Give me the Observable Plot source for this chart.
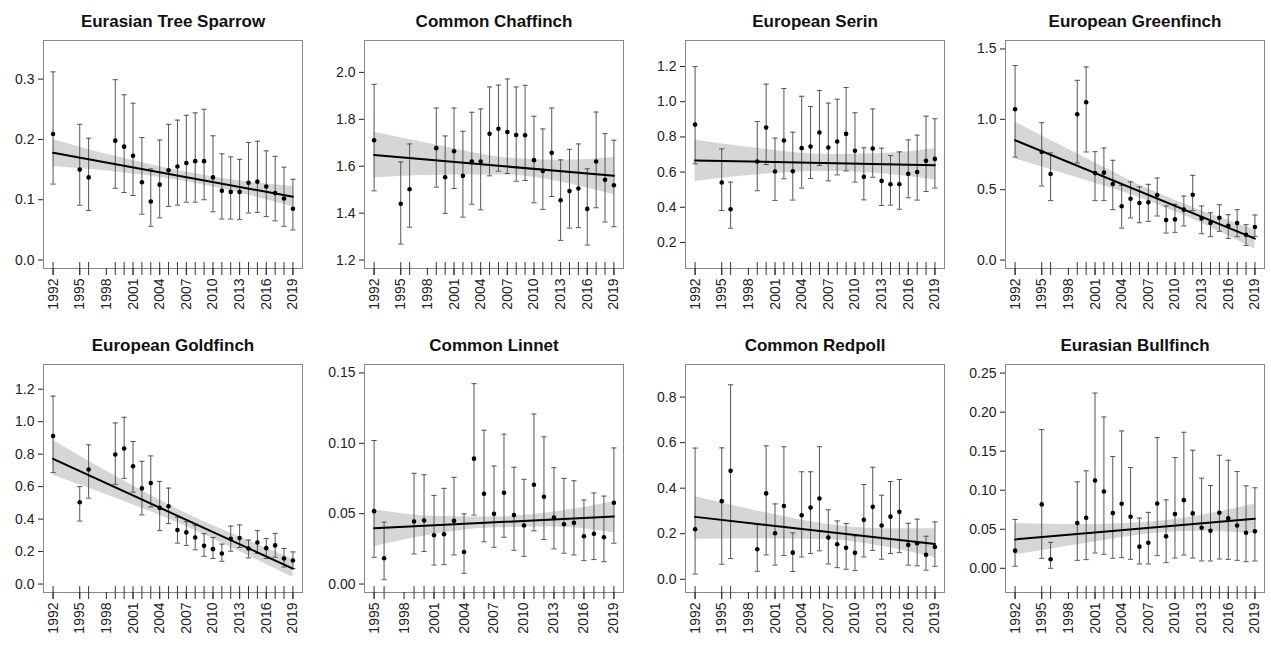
<!DOCTYPE html>
<html>
<head>
<meta charset="utf-8">
<script src="https://cdn.jsdelivr.net/npm/d3@7"></script>
<script src="https://cdn.jsdelivr.net/npm/@observablehq/plot@0.6"></script>
<style>
  html, body { margin: 0; padding: 0; background: #fff; overflow: hidden; }
  #grid { position: relative; width: 1271px; height: 653px; }
  #grid > svg { position: absolute; }
</style>
</head>
<body>
<div id="grid"></div>
<script>
// Survey years (1993, 1994, 1997 and 1998 have no estimates)
const years = [1992, 1995, 1996, 1999, 2000, 2001, 2002, 2003, 2004, 2005, 2006, 2007,
  2008, 2009, 2010, 2011, 2012, 2013, 2014, 2015, 2016, 2017, 2018, 2019];
const linnetYears = years.slice(1);
// Years at which the fitted trend's confidence band is given
const bandYears = [1992, 1999, 2007, 2013, 2019];
const linnetBandYears = [1995, 2001, 2007, 2013, 2019];

// Eurasian Tree Sparrow
const sparrowEst = [0.209, 0.150, 0.137, 0.198, 0.188, 0.173, 0.129, 0.097, 0.125, 0.149, 0.155, 0.161, 0.164, 0.164, 0.137, 0.115, 0.113, 0.113, 0.128, 0.130, 0.122, 0.111, 0.102, 0.085];
const sparrowUpper = [0.312, 0.225, 0.202, 0.299, 0.274, 0.260, 0.203, 0.151, 0.199, 0.225, 0.232, 0.240, 0.244, 0.250, 0.206, 0.176, 0.171, 0.167, 0.195, 0.197, 0.181, 0.172, 0.154, 0.134];
const sparrowLower = [0.126, 0.091, 0.082, 0.119, 0.112, 0.107, 0.076, 0.056, 0.070, 0.089, 0.091, 0.096, 0.096, 0.100, 0.080, 0.068, 0.068, 0.067, 0.078, 0.079, 0.072, 0.065, 0.056, 0.050];
const sparrowTrend = [0.178, 0.105];
const sparrowBandLo = [0.155, 0.146, 0.130, 0.111, 0.088];
const sparrowBandHi = [0.200, 0.172, 0.146, 0.131, 0.122];

// Common Chaffinch
const chaffinchEst = [1.711, 1.440, 1.502, 1.677, 1.553, 1.664, 1.559, 1.620, 1.620, 1.738, 1.760, 1.746, 1.733, 1.732, 1.626, 1.580, 1.657, 1.455, 1.494, 1.505, 1.418, 1.620, 1.542, 1.519];
const chaffinchUpper = [1.949, 1.618, 1.695, 1.848, 1.729, 1.848, 1.749, 1.830, 1.844, 1.938, 1.946, 1.972, 1.938, 1.945, 1.813, 1.759, 1.848, 1.627, 1.672, 1.695, 1.589, 1.831, 1.739, 1.711];
const chaffinchLower = [1.495, 1.268, 1.340, 1.511, 1.399, 1.505, 1.383, 1.438, 1.414, 1.559, 1.579, 1.569, 1.536, 1.539, 1.444, 1.416, 1.471, 1.284, 1.336, 1.338, 1.264, 1.423, 1.362, 1.342];
const chaffinchTrend = [1.648, 1.559];
const chaffinchBandLo = [1.550, 1.562, 1.563, 1.533, 1.478];
const chaffinchBandHi = [1.745, 1.690, 1.635, 1.625, 1.637];

// European Serin
const serinEst = [0.870, 0.541, 0.389, 0.660, 0.853, 0.603, 0.780, 0.605, 0.736, 0.745, 0.825, 0.740, 0.774, 0.817, 0.721, 0.573, 0.734, 0.550, 0.531, 0.531, 0.590, 0.600, 0.664, 0.675];
const serinUpper = [1.200, 0.732, 0.543, 0.887, 1.100, 0.793, 1.075, 0.827, 1.031, 0.973, 1.064, 0.992, 1.014, 1.081, 0.937, 0.738, 0.959, 0.736, 0.694, 0.715, 0.783, 0.810, 0.918, 0.903];
const serinLower = [0.647, 0.382, 0.281, 0.494, 0.643, 0.439, 0.562, 0.441, 0.509, 0.564, 0.638, 0.550, 0.584, 0.607, 0.543, 0.442, 0.571, 0.410, 0.412, 0.389, 0.454, 0.441, 0.490, 0.509];
const serinTrend = [0.666, 0.639];
const serinBandLo = [0.547, 0.585, 0.605, 0.590, 0.555];
const serinBandHi = [0.783, 0.735, 0.700, 0.705, 0.732];

// European Greenfinch
const greenfinchEst = [1.071, 0.768, 0.611, 1.036, 1.121, 0.618, 0.621, 0.540, 0.382, 0.436, 0.405, 0.410, 0.462, 0.284, 0.289, 0.358, 0.464, 0.296, 0.263, 0.301, 0.244, 0.263, 0.180, 0.235];
const greenfinchUpper = [1.382, 0.976, 0.761, 1.277, 1.372, 0.770, 0.796, 0.709, 0.531, 0.555, 0.520, 0.538, 0.583, 0.384, 0.396, 0.455, 0.602, 0.384, 0.336, 0.393, 0.322, 0.358, 0.251, 0.320];
const greenfinchLower = [0.732, 0.526, 0.422, 0.690, 0.768, 0.422, 0.422, 0.358, 0.227, 0.299, 0.265, 0.275, 0.313, 0.192, 0.197, 0.242, 0.351, 0.187, 0.166, 0.204, 0.154, 0.166, 0.104, 0.168];
const greenfinchTrend = [0.851, 0.152];
const greenfinchBandLo = [0.720, 0.585, 0.420, 0.262, 0.078];
const greenfinchBandHi = [0.981, 0.755, 0.505, 0.350, 0.215];

// European Goldfinch
const goldfinchEst = [0.911, 0.504, 0.705, 0.798, 0.835, 0.725, 0.589, 0.622, 0.469, 0.479, 0.333, 0.318, 0.287, 0.236, 0.215, 0.188, 0.279, 0.283, 0.219, 0.256, 0.221, 0.238, 0.157, 0.145];
const goldfinchUpper = [1.157, 0.600, 0.857, 0.992, 1.027, 0.878, 0.756, 0.789, 0.632, 0.591, 0.411, 0.384, 0.362, 0.310, 0.287, 0.246, 0.357, 0.364, 0.271, 0.329, 0.281, 0.312, 0.219, 0.198];
const goldfinchLower = [0.686, 0.388, 0.529, 0.614, 0.651, 0.566, 0.426, 0.475, 0.329, 0.372, 0.252, 0.238, 0.211, 0.171, 0.157, 0.140, 0.202, 0.225, 0.161, 0.188, 0.157, 0.165, 0.105, 0.095];
const goldfinchTrend = [0.771, 0.095];
const goldfinchBandLo = [0.670, 0.530, 0.355, 0.200, 0.040];
const goldfinchBandHi = [0.884, 0.665, 0.435, 0.290, 0.152];

// Common Linnet (series starts in 1995)
const linnetEst = [0.0518, 0.0183, 0.0444, 0.0452, 0.0347, 0.0354, 0.0449, 0.0228, 0.0891, 0.0642, 0.0499, 0.0649, 0.0490, 0.0416, 0.0706, 0.0620, 0.0473, 0.0425, 0.0435, 0.0340, 0.0357, 0.0333, 0.0578];
const linnetUpper = [0.1020, 0.0440, 0.0787, 0.0777, 0.0630, 0.0680, 0.0758, 0.0499, 0.1424, 0.1093, 0.0839, 0.1065, 0.0830, 0.0744, 0.1208, 0.1046, 0.0827, 0.0751, 0.0734, 0.0597, 0.0647, 0.0625, 0.0967];
const linnetLower = [0.0190, 0.0031, 0.0214, 0.0231, 0.0135, 0.0138, 0.0207, 0.0076, 0.0490, 0.0300, 0.0261, 0.0333, 0.0240, 0.0197, 0.0378, 0.0316, 0.0250, 0.0219, 0.0207, 0.0166, 0.0174, 0.0159, 0.0290];
const linnetTrend = [0.0397, 0.0480];
const linnetBandLo = [0.0265, 0.0352, 0.0400, 0.0405, 0.0364];
const linnetBandHi = [0.0528, 0.0482, 0.0476, 0.0512, 0.0585];

// Common Redpoll
const redpollEst = [0.220, 0.343, 0.476, 0.132, 0.377, 0.202, 0.322, 0.117, 0.281, 0.315, 0.355, 0.183, 0.154, 0.138, 0.116, 0.261, 0.318, 0.236, 0.275, 0.296, 0.151, 0.158, 0.108, 0.142];
const redpollUpper = [0.576, 0.577, 0.854, 0.240, 0.586, 0.331, 0.582, 0.204, 0.472, 0.472, 0.582, 0.305, 0.256, 0.245, 0.190, 0.416, 0.492, 0.369, 0.429, 0.438, 0.246, 0.264, 0.189, 0.252];
const redpollLower = [0.023, 0.066, 0.091, 0.035, 0.107, 0.062, 0.104, 0.034, 0.098, 0.113, 0.125, 0.067, 0.051, 0.044, 0.038, 0.098, 0.127, 0.088, 0.113, 0.117, 0.062, 0.059, 0.040, 0.057];
const redpollTrend = [0.274, 0.155];
const redpollBandLo = [0.176, 0.178, 0.175, 0.145, 0.095];
const redpollBandHi = [0.362, 0.300, 0.240, 0.222, 0.222];

// Eurasian Bullfinch
const bullfinchEst = [0.0226, 0.0818, 0.0115, 0.0579, 0.0647, 0.1124, 0.0984, 0.0707, 0.0826, 0.0660, 0.0277, 0.0328, 0.0830, 0.0409, 0.0694, 0.0873, 0.0703, 0.0520, 0.0481, 0.0711, 0.0639, 0.0549, 0.0456, 0.0473];
const bullfinchUpper = [0.0626, 0.1776, 0.0332, 0.1107, 0.1248, 0.2244, 0.1938, 0.1431, 0.1759, 0.1290, 0.0643, 0.0716, 0.1674, 0.0877, 0.1418, 0.1742, 0.1512, 0.1154, 0.1060, 0.1448, 0.1384, 0.1239, 0.1056, 0.1031];
const bullfinchLower = [0.0026, 0.0128, 0.0000, 0.0102, 0.0111, 0.0196, 0.0179, 0.0128, 0.0136, 0.0115, 0.0055, 0.0055, 0.0162, 0.0072, 0.0132, 0.0170, 0.0132, 0.0094, 0.0094, 0.0119, 0.0115, 0.0102, 0.0085, 0.0094];
const bullfinchTrend = [0.0370, 0.0635];
const bullfinchBandLo = [0.0170, 0.0300, 0.0440, 0.0475, 0.0447];
const bullfinchBandHi = [0.0575, 0.0560, 0.0590, 0.0680, 0.0822];

// Panel definitions: title, series, y-axis ticks and limits
const panels = [
  {title: "Eurasian Tree Sparrow", years, est: sparrowEst, hi: sparrowUpper, lo: sparrowLower, trend: sparrowTrend, bandYears, bandLo: sparrowBandLo, bandHi: sparrowBandHi, yTicks: [0, 0.1, 0.2, 0.3], fmt: ".1f", yDomain: [-0.014, 0.364]},
  {title: "Common Chaffinch", years, est: chaffinchEst, hi: chaffinchUpper, lo: chaffinchLower, trend: chaffinchTrend, bandYears, bandLo: chaffinchBandLo, bandHi: chaffinchBandHi, yTicks: [1.2, 1.4, 1.6, 1.8, 2.0], fmt: ".1f", yDomain: [1.164, 2.136]},
  {title: "European Serin", years, est: serinEst, hi: serinUpper, lo: serinLower, trend: serinTrend, bandYears, bandLo: serinBandLo, bandHi: serinBandHi, yTicks: [0.2, 0.4, 0.6, 0.8, 1.0, 1.2], fmt: ".1f", yDomain: [0.052, 1.348]},
  {title: "European Greenfinch", years, est: greenfinchEst, hi: greenfinchUpper, lo: greenfinchLower, trend: greenfinchTrend, bandYears, bandLo: greenfinchBandLo, bandHi: greenfinchBandHi, yTicks: [0, 0.5, 1.0, 1.5], fmt: ".1f", yDomain: [-0.06, 1.56]},
  {title: "European Goldfinch", years, est: goldfinchEst, hi: goldfinchUpper, lo: goldfinchLower, trend: goldfinchTrend, bandYears, bandLo: goldfinchBandLo, bandHi: goldfinchBandHi, yTicks: [0, 0.2, 0.4, 0.6, 0.8, 1.0, 1.2], fmt: ".1f", yDomain: [-0.052, 1.352]},
  {title: "Common Linnet", years: linnetYears, est: linnetEst, hi: linnetUpper, lo: linnetLower, trend: linnetTrend, bandYears: linnetBandYears, bandLo: linnetBandLo, bandHi: linnetBandHi, yTicks: [0, 0.05, 0.10, 0.15], fmt: ".2f", yDomain: [-0.006, 0.156]},
  {title: "Common Redpoll", years, est: redpollEst, hi: redpollUpper, lo: redpollLower, trend: redpollTrend, bandYears, bandLo: redpollBandLo, bandHi: redpollBandHi, yTicks: [0, 0.2, 0.4, 0.6, 0.8], fmt: ".1f", yDomain: [-0.058, 0.943]},
  {title: "Eurasian Bullfinch", years, est: bullfinchEst, hi: bullfinchUpper, lo: bullfinchLower, trend: bullfinchTrend, bandYears, bandLo: bullfinchBandLo, bandHi: bullfinchBandHi, yTicks: [0, 0.05, 0.10, 0.15, 0.20, 0.25], fmt: ".2f", yDomain: [-0.031, 0.261]}
];

// Horizontal cap drawn at the ends of each error bar
const capSymbol = {
  draw(context, size) {
    const w = Math.sqrt(size / Math.PI);
    context.moveTo(-w, 0);
    context.lineTo(w, 0);
  }
};

function drawPanel(p) {
  const first = p.years[0], last = p.years[p.years.length - 1];
  const span = last - first;
  const rows = p.years.map((year, i) => ({year, est: p.est[i], lo: p.lo[i], hi: p.hi[i]}));
  const band = p.bandYears.map((year, i) => ({year, lo: p.bandLo[i], hi: p.bandHi[i]}));
  const trend = [{year: first, v: p.trend[0]}, {year: last, v: p.trend[1]}];
  const labelYears = d3.range(first, last + 1, 3);
  return Plot.plot({
    width: 310,
    height: 324,
    marginLeft: 43,
    marginRight: 8,
    marginTop: 40,
    marginBottom: 56,
    style: {fontFamily: "'Liberation Sans', Arial, sans-serif", fontSize: "14px", color: "#222", background: "#fff"},
    x: {domain: [first - 0.04 * span, last + 0.04 * span]},
    y: {domain: p.yDomain},
    marks: [
      Plot.areaY(band, {x: "year", y1: "lo", y2: "hi", fill: "#d6d6d6", curve: "monotone-x"}),
      Plot.ruleX(rows, {x: "year", y1: "lo", y2: "hi", stroke: "#555", strokeWidth: 1}),
      Plot.dot(rows, {x: "year", y: "hi", symbol: capSymbol, r: 2.6, fill: "none", stroke: "#555", strokeWidth: 1}),
      Plot.dot(rows, {x: "year", y: "lo", symbol: capSymbol, r: 2.6, fill: "none", stroke: "#555", strokeWidth: 1}),
      Plot.dot(rows, {x: "year", y: "est", r: 2.3, fill: "#000"}),
      Plot.line(trend, {x: "year", y: "v", stroke: "#000", strokeWidth: 2}),
      Plot.frame({stroke: "#888"}),
      Plot.axisY({ticks: p.yTicks, tickFormat: d3.format(p.fmt), tickSize: 5, tickPadding: 4, fontSize: 14, color: "#222", label: null}),
      Plot.axisX({ticks: labelYears, tickFormat: d => String(d), tickRotate: -90, tickSize: 7, tickPadding: 3, fontSize: 14, color: "#222", label: null}),
      Plot.axisX({ticks: p.years, tickFormat: () => "", tickSize: 13, dy: -6, color: "#333", label: null}),
      Plot.text([p.title], {text: d => d, frameAnchor: "top", dy: -14, lineAnchor: "bottom", fontSize: 17, fontWeight: "bold", fill: "#111"})
    ]
  });
}

const grid = document.getElementById("grid");
const colLeft = [0, 321, 642, 962];
const rowTop = [0, 324];
panels.forEach((p, i) => {
  const svg = drawPanel(p);
  svg.style.left = colLeft[i % 4] + "px";
  svg.style.top = rowTop[Math.floor(i / 4)] + "px";
  grid.appendChild(svg);
});
</script>
</body>
</html>
